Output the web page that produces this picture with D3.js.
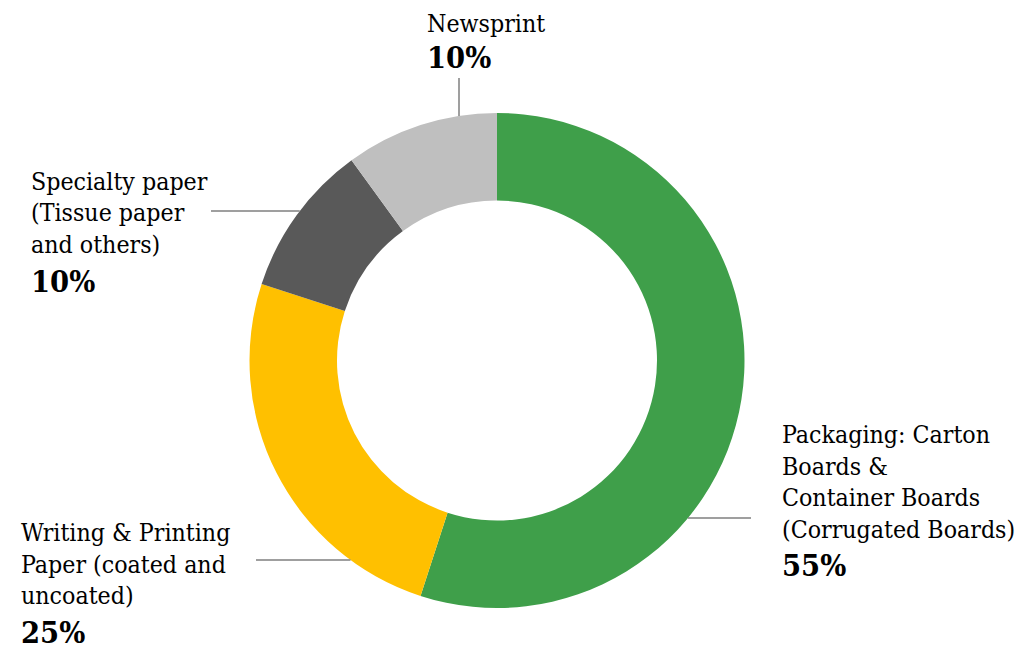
<!DOCTYPE html>
<html>
<head>
<meta charset="utf-8">
<script src="https://cdn.jsdelivr.net/npm/d3@7"></script>
<style>
  body { margin: 0; background: #fff; }
  text { font-family: "DejaVu Serif Condensed", "Liberation Serif", serif; fill: #000; }
</style>
</head>
<body>
<script>
// chart data
const categories = [
  "Packaging: Carton Boards & Container Boards (Corrugated Boards)",
  "Writing & Printing Paper (coated and uncoated)",
  "Specialty paper (Tissue paper and others)",
  "Newsprint"
];
const shares = [55, 25, 10, 10];
const labelLines = [
  ["Packaging: Carton", "Boards &", "Container Boards", "(Corrugated Boards)"],
  ["Writing & Printing", "Paper (coated and", "uncoated)"],
  ["Specialty paper", "(Tissue paper", "and others)"],
  ["Newsprint"]
];
const colors = ["#3f9f4a", "#ffc000", "#595959", "#bfbfbf"];

const width = 1018, height = 649;
const cx = 497, cy = 360.5;
const outerR = 247.5, innerR = 160;
const lineH = 31.7;

// label placement (x of text, first baseline, leader line)
const labelPos = [
  { x: 782, y: 443, gap: 38, leader: { dir: "h", y: 518, to: 751 } },
  { x: 21, y: 541, gap: 39, leader: { dir: "h", y: 560, to: 256 } },
  { x: 31, y: 189.5, gap: 39, leader: { dir: "h", y: 211, to: 211 } },
  { x: 427, y: 31.5, gap: 36.5, leader: { dir: "v", x: 459, to: 78 } }
];

const svg = d3.select("body").append("svg")
  .attr("width", width)
  .attr("height", height);

const pie = d3.pie().sort(null).value(d => d);
const arc = d3.arc().innerRadius(innerR).outerRadius(outerR);

const g = svg.append("g").attr("transform", `translate(${cx},${cy})`);

g.selectAll("path")
  .data(pie(shares))
  .join("path")
  .attr("d", arc)
  .attr("fill", (d, i) => colors[i]);

// leader lines, starting on the outer edge of the ring
labelPos.forEach((p, i) => {
  const L = p.leader;
  let x1, y1, x2, y2;
  if (L.dir === "h") {
    const dy = L.y - cy;
    const dx = Math.sqrt(outerR * outerR - dy * dy);
    x1 = L.to > cx ? cx + dx : cx - dx;
    y1 = L.y; x2 = L.to; y2 = L.y;
  } else {
    const dx = L.x - cx;
    const dy = Math.sqrt(outerR * outerR - dx * dx);
    x1 = L.x; y1 = cy - dy; x2 = L.x; y2 = L.to;
  }
  svg.append("line")
    .attr("x1", x1).attr("y1", y1)
    .attr("x2", x2).attr("y2", y2)
    .attr("stroke", "#7f7f7f")
    .attr("stroke-width", 1.5);
});

// labels
labelPos.forEach((p, i) => {
  const t = svg.append("text")
    .attr("x", p.x)
    .attr("y", p.y)
    .style("font-size", "24.7px");
  labelLines[i].forEach((line, j) => {
    t.append("tspan")
      .attr("x", p.x)
      .attr("dy", j === 0 ? 0 : lineH)
      .text(line);
  });
  svg.append("text")
    .attr("x", p.x)
    .attr("y", p.y + lineH * (labelLines[i].length - 1) + p.gap)
    .style("font-size", "30.5px")
    .style("font-weight", "bold")
    .text(shares[i] + "%");
});
</script>
</body>
</html>
